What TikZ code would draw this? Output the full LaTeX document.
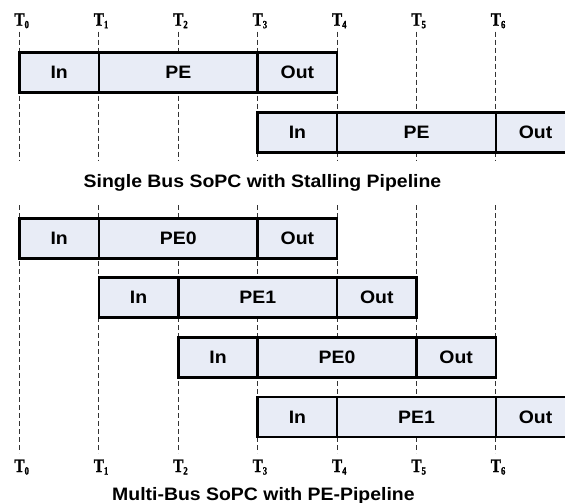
\documentclass[tikz,border=0pt]{standalone}
\usepackage{fontspec}
\setmainfont{Liberation Sans}[FakeStretch=1.08]
\newfontfamily\tfont{Liberation Serif Bold}[FakeStretch=0.8,FakeBold=1.2]
\definecolor{segfill}{RGB}{232,236,246}
\newcommand\segm[5]{%
  \node[seg, minimum width={79.4*(#3-#2)}] (#1) at ({19.5+79.4*(#2+#3)/2},#4) {#5};}
\newcommand\tsubs[1]{\rlap{\raisebox{-2.5pt}{\fontsize{11}{11}\selectfont #1}}}
\begin{document}
\begin{tikzpicture}[x=1pt,y=-1pt,
  seg/.style={draw=black, line width=2.5pt, fill=segfill, minimum height=40,
    inner sep=0pt, outer sep=0pt, font=\bfseries\fontsize{18}{18}\selectfont},
  guide/.style={draw=black!80, line width=1pt, dash pattern=on 5pt off 3pt},
  tlab/.style={anchor=base, inner sep=0pt, font=\tfont\fontsize{19}{19}\selectfont},
  captext/.style={anchor=base, inner sep=0pt, font=\bfseries\fontsize{18}{18}\selectfont}]
\useasboundingbox (0,0) rectangle (565,503);
\clip (0,0) rectangle (565,503);
% guide lines
\foreach \i in {0,...,6}{
  \coordinate (ga\i) at ({19.5+79.4*\i},31.7);
  \coordinate (gb\i) at ({19.5+79.4*\i},160);
  \coordinate (gc\i) at ({19.5+79.4*\i},205);
  \coordinate (gd\i) at ({19.5+79.4*\i},453);
  \draw[guide] (ga\i) -- (gb\i);
  \draw[guide] (gc\i) -- (gd\i);
  \node[tlab] (tt\i) at ({19.5+79.4*\i},25.7) {T\tsubs{\i}};
  \node[tlab] (tb\i) at ({19.5+79.4*\i},472) {T\tsubs{\i}};
}
% single bus
\segm{s1a}{0}{1}{72.7}{In}
\segm{s1b}{1}{3}{72.7}{PE}
\segm{s1c}{3}{4}{72.7}{Out}
\segm{s2a}{3}{4}{132.5}{In}
\segm{s2b}{4}{6}{132.5}{PE}
\segm{s2c}{6}{7}{132.5}{Out}
\node[captext] (cap1) at (262.5,187) {Single Bus SoPC with Stalling Pipeline};
% multi bus
\segm{maa}{0}{1}{238.3}{In}
\segm{mab}{1}{3}{238.3}{PE0}
\segm{mac}{3}{4}{238.3}{Out}
\segm{mba}{1}{2}{297.3}{In}
\segm{mbb}{2}{4}{297.3}{PE1}
\segm{mbc}{4}{5}{297.3}{Out}
\segm{mca}{2}{3}{357.4}{In}
\segm{mcb}{3}{5}{357.4}{PE0}
\segm{mcc}{5}{6}{357.4}{Out}
\segm{mda}{3}{4}{416.9}{In}
\segm{mdb}{4}{6}{416.9}{PE1}
\segm{mdc}{6}{7}{416.9}{Out}
\node[captext] (cap2) at (263.4,500) {Multi-Bus SoPC with PE-Pipeline};
\end{tikzpicture}
\end{document}
